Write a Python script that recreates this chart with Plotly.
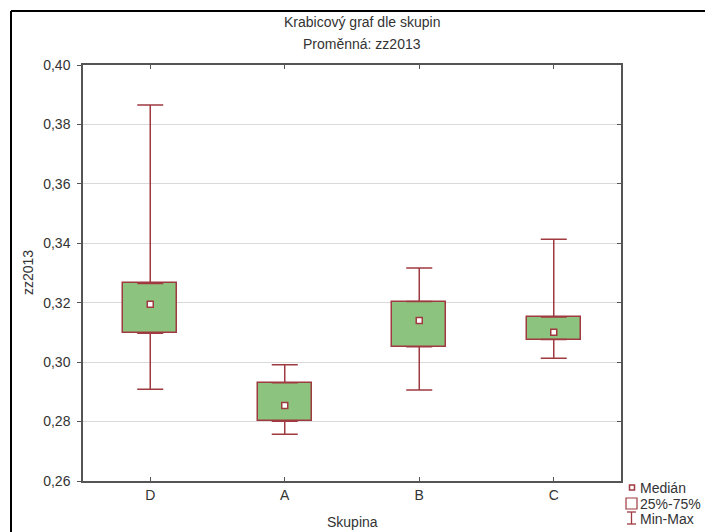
import plotly.graph_objects as go

# ---- data ----
groups = ["D", "A", "B", "C"]
q_min = [0.2909, 0.2757, 0.2906, 0.3013]
q1 = [0.3097, 0.2801, 0.3052, 0.3076]
median = [0.3195, 0.2854, 0.3140, 0.3101]
q3 = [0.3265, 0.2931, 0.3204, 0.3152]
q_max = [0.3865, 0.2991, 0.3317, 0.3414]
y_ticks = [0.26, 0.28, 0.30, 0.32, 0.34, 0.36, 0.38, 0.40]

title1 = "Krabicový graf dle skupin"
title2 = "Proměnná: zz2013"
x_title = "Skupina"
y_title = "zz2013"
legend_labels = ["Medián", "25%-75%", "Min-Max"]

# ---- style ----
RED = "#9e3a40"
GREEN = "#8cc47f"
AXIS = "#555555"
GRID = "#d9d9d9"
TXT = "#333333"
FONT = "Liberation Sans, Arial, sans-serif"

W, H = 707, 532
L, R, T, B = 83, 86, 65, 51
PW, PH = W - L - R, H - T - B


def X(px):
    return (px - L) / PW


def Y(py):
    return (H - B - py) / PH


fig = go.Figure()

# boxes (25%-75%)
fig.add_trace(go.Bar(
    x=groups,
    y=[b - a for a, b in zip(q1, q3)],
    base=q1,
    width=0.4,
    marker=dict(color=GREEN, line=dict(color=RED, width=1.5)),
    hoverinfo="skip",
    showlegend=False,
))

# upper whiskers
fig.add_trace(go.Scatter(
    x=groups, y=q3, mode="markers",
    marker=dict(size=1, color="rgba(0,0,0,0)"),
    error_y=dict(type="data", symmetric=False,
                 array=[b - a for a, b in zip(q3, q_max)],
                 arrayminus=[0] * len(groups),
                 color=RED, thickness=1.5, width=13),
    hoverinfo="skip", showlegend=False,
))
# lower whiskers
fig.add_trace(go.Scatter(
    x=groups, y=q1, mode="markers",
    marker=dict(size=1, color="rgba(0,0,0,0)"),
    error_y=dict(type="data", symmetric=False,
                 array=[0] * len(groups),
                 arrayminus=[a - b for a, b in zip(q1, q_min)],
                 color=RED, thickness=1.5, width=13),
    hoverinfo="skip", showlegend=False,
))
# medians
fig.add_trace(go.Scatter(
    x=groups, y=median, mode="markers", yaxis="y2",
    marker=dict(symbol="square", size=6, color="white",
                line=dict(color=RED, width=1.5)),
    hoverinfo="skip", showlegend=False,
))

fig.update_layout(
    width=W, height=H,
    margin=dict(l=L, r=R, t=T, b=B),
    paper_bgcolor="white", plot_bgcolor="white",
    separators=", ",
    font=dict(family=FONT, size=14, color=TXT),
    showlegend=False,
    bargap=0,
    xaxis=dict(
        type="category", categoryorder="array", categoryarray=groups,
        range=[-0.5, len(groups) - 0.5],
        showline=True, linecolor=AXIS, linewidth=1.5, mirror="ticks",
        ticks="inside", ticklen=4, tickcolor=AXIS, tickwidth=1,
        showgrid=False, zeroline=False,
        tickfont=dict(size=14, color=TXT),
    ),
    yaxis=dict(
        range=[y_ticks[0], y_ticks[-1]],
        tickvals=y_ticks, tickformat=".2f",
        showline=True, linecolor=AXIS, linewidth=1.5, mirror=True,
        ticks="outside", ticklen=4, tickcolor=AXIS, tickwidth=1,
        showgrid=True, gridcolor=GRID, gridwidth=1, zeroline=False,
        tickfont=dict(size=14, color=TXT),
        ticklabelstandoff=4,
    ),
    yaxis2=dict(
        range=[y_ticks[0], y_ticks[-1]],
        tickvals=y_ticks, overlaying="y", side="right", anchor="x",
        showticklabels=False, ticks="inside", ticklen=4,
        tickcolor=AXIS, tickwidth=1,
        showgrid=False, showline=False, zeroline=False,
    ),
)

ann = [
    dict(text=title1, x=X(362), y=Y(22)),
    dict(text=title2, x=X(362), y=Y(44)),
    dict(text=x_title, x=X(352), y=Y(522)),
    dict(text=y_title, x=X(28), y=Y(273), textangle=-90),
]
for a in ann:
    fig.add_annotation(xref="paper", yref="paper", showarrow=False,
                       xanchor="center", yanchor="middle",
                       font=dict(family=FONT, size=14, color=TXT), **a)

# legend (drawn manually)
leg_y = [487.5, 503.5, 518.5]
for lab, yy in zip(legend_labels, leg_y):
    fig.add_annotation(xref="paper", yref="paper", showarrow=False,
                       xanchor="left", yanchor="middle", x=X(638), y=Y(yy),
                       text=lab, font=dict(family=FONT, size=14, color=TXT))

shapes = [
    # median symbol
    dict(type="rect", x0=X(629.5), x1=X(634.5), y0=Y(485), y1=Y(490),
         line=dict(color=RED, width=1.5), fillcolor="white"),
    # box symbol
    dict(type="rect", x0=X(626), x1=X(637), y0=Y(498), y1=Y(509),
         line=dict(color=RED, width=1.2), fillcolor="white"),
    # min-max symbol
    dict(type="line", x0=X(631.5), x1=X(631.5), y0=Y(512), y1=Y(524),
         line=dict(color=RED, width=1.3)),
    dict(type="line", x0=X(627), x1=X(636), y0=Y(512), y1=Y(512),
         line=dict(color=RED, width=1.3)),
    dict(type="line", x0=X(627), x1=X(636), y0=Y(524), y1=Y(524),
         line=dict(color=RED, width=1.3)),
    # outer frame (left and top edges)
    dict(type="line", x0=X(11), x1=X(705), y0=Y(11), y1=Y(11),
         line=dict(color="black", width=2)),
    dict(type="line", x0=X(11), x1=X(11), y0=Y(11), y1=Y(540),
         line=dict(color="black", width=2)),
]
for s in shapes:
    fig.add_shape(xref="paper", yref="paper", **s)

fig.write_html(
    "out.html",
    config={"displayModeBar": False},
    post_script="document.body.style.margin='0';"
                "document.body.style.overflow='hidden';",
)
